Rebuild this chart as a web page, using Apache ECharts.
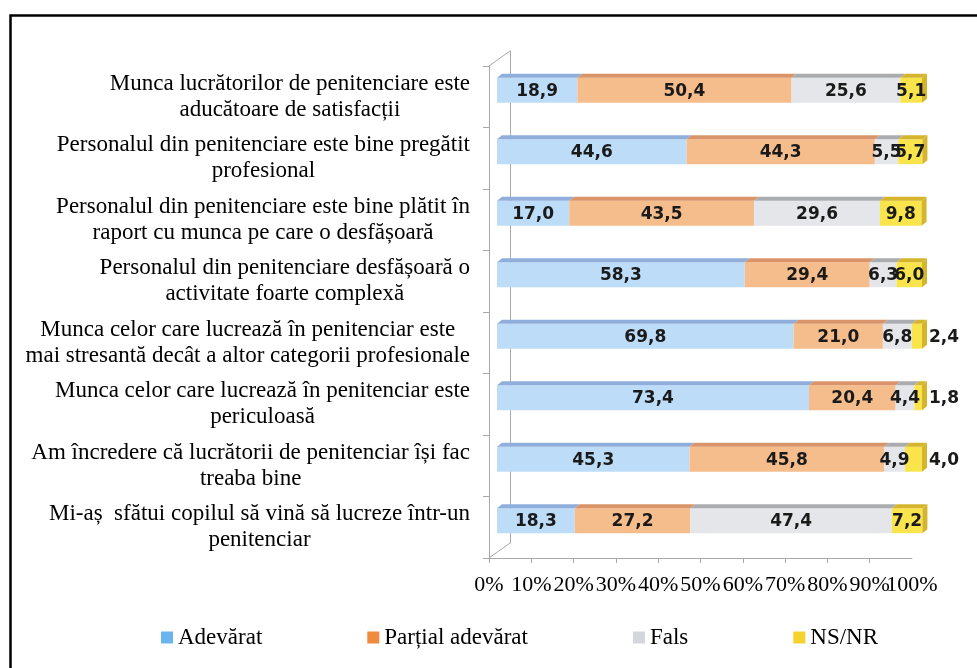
<!DOCTYPE html>
<html>
<head>
<meta charset="utf-8">
<script src="https://cdn.jsdelivr.net/npm/echarts@6/dist/echarts.min.js"></script>
<style>
  html, body { margin: 0; padding: 0; background: #fff; }
  #chart { width: 977px; height: 668px; }
</style>
</head>
<body>
<div id="chart"></div>
<script>
// date (procente)
const categories = [
  'Munca lucrătorilor de penitenciare este\naducătoare de satisfacții',
  'Personalul din penitenciare este bine pregătit\nprofesional',
  'Personalul din penitenciare este bine plătit în\nraport cu munca pe care o desfășoară',
  'Personalul din penitenciare desfășoară o\nactivitate foarte complexă',
  'Munca celor care lucrează în penitenciar este\nmai stresantă decât a altor categorii profesionale',
  'Munca celor care lucrează în penitenciar este\npericuloasă',
  'Am încredere că lucrătorii de penitenciar își fac\ntreaba bine',
  'Mi-aș  sfătui copilul să vină să lucreze într-un\npenitenciar'
];
const seriesNames = ['Adevărat', 'Parțial adevărat', 'Fals', 'NS/NR'];
const adevarat = [18.9, 44.6, 17.0, 58.3, 69.8, 73.4, 45.3, 18.3];
const partial  = [50.4, 44.3, 43.5, 29.4, 21.0, 20.4, 45.8, 27.2];
const fals     = [25.6, 5.5, 29.6, 6.3, 6.8, 4.4, 4.9, 47.4];
const nsnr     = [5.1, 5.7, 9.8, 6.0, 2.4, 1.8, 4.0, 7.2];
const xTicks   = [0, 10, 20, 30, 40, 50, 60, 70, 80, 90, 100];

const legendColors = ['#6cb4ee', '#ef8b3f', '#d3d6da', '#f5d22c'];
const frontColors  = ['#bcdcf8', '#f6bd8c', '#e4e6ea', '#f9e44c'];
const topColors    = ['#8faedb', '#d9946a', '#aaacb0', '#d5b52c'];
const DX = 5, DY = 4;
const serifFont = 'Liberation Serif';

const allValues = [adevarat, partial, fals, nsnr];

function fmt(v) {
  return v.toFixed(1).replace('.', ',');
}

function makeRender(si) {
  return function (params, api) {
    const cat = api.value(0);
    const a = api.value(1), b = api.value(2), v = api.value(3);
    const p0 = api.coord([a, cat]);
    const p1 = api.coord([b, cat]);
    const h = api.size([0, 1])[1] * 0.405;
    const x0 = p0[0], x1 = p1[0];
    const yT = p0[1] - h / 2;
    const children = [
      { type: 'rect', shape: { x: x0, y: yT, width: x1 - x0, height: h }, style: { fill: frontColors[si] } },
      { type: 'polygon', shape: { points: [[x0, yT], [x1, yT], [x1 + DX, yT - DY], [x0 + DX, yT - DY]] },
        style: { fill: topColors[si] } }
    ];
    if (si === allValues.length - 1) {
      children.push({ type: 'polygon',
        shape: { points: [[x1, yT], [x1 + DX, yT - DY], [x1 + DX, yT + h - DY], [x1, yT + h]] },
        style: { fill: topColors[si] } });
    }
    const outside = si === allValues.length - 1 && v < 5;
    children.push({
      type: 'text',
      z2: 10,
      style: {
        text: fmt(v),
        x: outside ? x1 + DX + 2 : (x0 + x1) / 2,
        y: p0[1] + 1,
        align: outside ? 'left' : 'center',
        verticalAlign: 'middle',
        textAlign: outside ? 'left' : 'center',
        textVerticalAlign: 'middle',
        font: 'bold 17px "DejaVu Sans"',
        fill: '#1a1a1a'
      }
    });
    return { type: 'group', children: children };
  };
}

const series = allValues.map(function (vals, si) {
  const data = vals.map(function (v, i) {
    let start = 0;
    for (let k = 0; k < si; k++) start += allValues[k][i];
    return [i, start, start + v, v];
  });
  return {
    name: seriesNames[si],
    type: 'custom',
    xAxisIndex: 2,
    yAxisIndex: 2,
    itemStyle: { color: legendColors[si] },
    encode: { x: [1, 2], y: 0 },
    renderItem: makeRender(si),
    data: data
  };
});

const xLabelStyle = { margin: 16, color: '#000', fontFamily: serifFont, fontSize: 22 };

const chart = echarts.init(document.getElementById('chart'));
chart.setOption({
  animation: false,
  backgroundColor: '#fff',
  textStyle: { fontFamily: serifFont },
  grid: [
    { left: 489, top: 66, width: 423, height: 492 },   // axe fata
    { left: 510, top: 51, width: 423, height: 492 },   // perete spate
    { left: 497, top: 59.5, width: 425, height: 492 }  // bare
  ],
  xAxis: [
    {
      gridIndex: 0, type: 'value', position: 'bottom', min: 0, max: 100, interval: 10,
      axisLine: { show: true, lineStyle: { color: '#a8a8a8', width: 1 } },
      axisTick: { show: true, length: 5, lineStyle: { color: '#a8a8a8' } },
      splitLine: { show: false },
      axisLabel: Object.assign({}, xLabelStyle, {
        showMinLabel: true, showMaxLabel: false,
        formatter: function (v) { return v < 100 && xTicks.indexOf(v) >= 0 ? v + '%' : ''; }
      })
    },
    { gridIndex: 1, type: 'value', min: 0, max: 100, show: false },
    { gridIndex: 2, type: 'value', min: 0, max: 100, show: false },
    {
      // doar eticheta 100%
      gridIndex: 0, type: 'value', position: 'bottom', min: 0, max: 100, interval: 10,
      axisLine: { show: false }, axisTick: { show: false }, splitLine: { show: false },
      axisLabel: Object.assign({}, xLabelStyle, {
        showMinLabel: false, showMaxLabel: true,
        formatter: function (v) { return v === 100 ? v + '%' : ''; }
      })
    }
  ],
  yAxis: [
    {
      gridIndex: 0, type: 'category', inverse: true, data: categories,
      axisLine: { show: true, lineStyle: { color: '#a8a8a8', width: 1 } },
      axisTick: { show: true, length: 6, lineStyle: { color: '#a8a8a8' } },
      axisLabel: {
        margin: 19, align: 'right',
        formatter: function (v) {
          return v.split('\n').map(function (l) { return '{c|' + l + '}'; }).join('\n');
        },
        rich: { c: { align: 'center', fontFamily: serifFont, fontSize: 23, lineHeight: 26, color: '#000' } }
      }
    },
    {
      gridIndex: 1, type: 'category', inverse: true, data: categories,
      axisLine: { show: true, lineStyle: { color: '#a8a8a8', width: 1 } },
      axisTick: { show: false }, axisLabel: { show: false }
    },
    { gridIndex: 2, type: 'category', inverse: true, data: categories, show: false }
  ],
  legend: {
    left: 156, top: 621,
    itemWidth: 12, itemHeight: 12, itemGap: 105,
    icon: 'rect',
    textStyle: { fontFamily: serifFont, fontSize: 23, color: '#000' },
    data: seriesNames
  },
  graphic: [
    { type: 'rect', left: 8, top: 13, shape: { width: 990, height: 680 },
      style: { fill: null, stroke: '#000', lineWidth: 2.5 }, silent: true },
    { type: 'line', shape: { x1: 489, y1: 66, x2: 510, y2: 51 },
      style: { stroke: '#a8a8a8', lineWidth: 1 }, silent: true },
    { type: 'line', shape: { x1: 489, y1: 558, x2: 510, y2: 543 },
      style: { stroke: '#a8a8a8', lineWidth: 1 }, silent: true }
  ],
  series: series
});
</script>
</body>
</html>
